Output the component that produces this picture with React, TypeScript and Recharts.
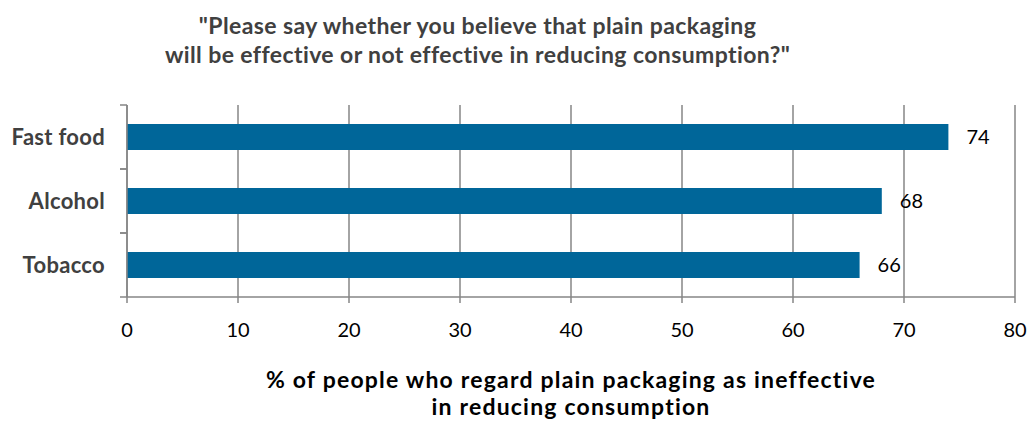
import { BarChart, Bar, XAxis, YAxis, CartesianGrid, LabelList } from 'recharts';

const categories = ['Fast food', 'Alcohol', 'Tobacco'];
const ineffectivePct = [74, 68, 66];
const xTicks = [0, 10, 20, 30, 40, 50, 60, 70, 80];

const data = categories.map((name, i) => ({ name, value: ineffectivePct[i] }));

const AXIS_COLOR = '#868686';
const BAR_COLOR = '#006699';
const TEXT_DARK = '#404040';
const FONT = 'Lato, "Open Sans", sans-serif';
const HALF_BAND = 32;

function CategoryTick(props: any) {
  const { x, y, payload } = props;
  return (
    <g>
      <line x1={x - 5} x2={x + 2} y1={y - HALF_BAND} y2={y - HALF_BAND} stroke={AXIS_COLOR} strokeWidth={1.5} />
      <line x1={x - 5} x2={x + 2} y1={y + HALF_BAND} y2={y + HALF_BAND} stroke={AXIS_COLOR} strokeWidth={1.5} />
      <text
        x={x - 20}
        y={y}
        dy="0.35em"
        textAnchor="end"
        fill={TEXT_DARK}
        fontFamily={FONT}
        fontWeight="bold"
        fontSize={22}
        letterSpacing={0.3}
      >
        {payload.value}
      </text>
    </g>
  );
}

export default function App() {
  return (
    <div style={{ position: 'absolute', left: 0, top: 0, width: 1032, height: 427, background: '#fff' }}>
      <div
        style={{
          position: 'absolute',
          left: 0,
          width: 955,
          top: 11,
          textAlign: 'center',
          fontFamily: FONT,
          fontWeight: 'bold',
          fontSize: 23,
          letterSpacing: 0.4,
          lineHeight: '29px',
          color: TEXT_DARK,
        }}
      >
        "Please say whether you believe that plain packaging
        <br />
        will be effective or not effective in reducing consumption?"
      </div>
      <BarChart
        width={1032}
        height={427}
        data={data}
        layout="vertical"
        margin={{ top: 105, right: 17, left: 0, bottom: 100 }}
        barSize={26}
      >
        <CartesianGrid horizontal={false} vertical stroke={AXIS_COLOR} strokeWidth={1.5} />
        <XAxis
          type="number"
          domain={[0, 80]}
          ticks={xTicks}
          height={30}
          axisLine={{ stroke: AXIS_COLOR, strokeWidth: 1.5 }}
          tickLine={{ stroke: AXIS_COLOR, strokeWidth: 1.5 }}
          tickSize={6}
          tickMargin={20}
          tick={{ fill: '#000', fontFamily: FONT, fontSize: 20 }}
        />
        <YAxis
          type="category"
          dataKey="name"
          width={127}
          axisLine={{ stroke: AXIS_COLOR, strokeWidth: 1.5 }}
          tickLine={false}
          tickSize={0}
          tick={<CategoryTick />}
        />
        <Bar dataKey="value" fill={BAR_COLOR} isAnimationActive={false}>
          <LabelList
            dataKey="value"
            position="right"
            offset={18}
            fill="#000"
            fontFamily={FONT}
            fontSize={20}
          />
        </Bar>
      </BarChart>
      <div
        style={{
          position: 'absolute',
          left: 127,
          width: 888,
          top: 366,
          textAlign: 'center',
          fontFamily: FONT,
          fontWeight: 'bold',
          fontSize: 23,
          letterSpacing: 1.2,
          lineHeight: '27px',
          color: '#000',
        }}
      >
        % of people who regard plain packaging as ineffective
        <br />
        in reducing consumption
      </div>
    </div>
  );
}
